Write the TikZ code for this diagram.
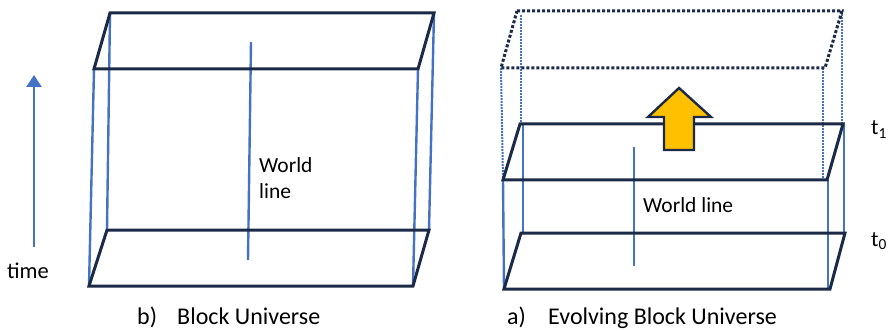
\documentclass[tikz,border=0pt]{standalone}
\usepackage{fontspec}
\setmainfont{Carlito}
\usetikzlibrary{arrows.meta}
\definecolor{navy}{HTML}{1B2A47}
\definecolor{wblue}{HTML}{4472C4}
\definecolor{ygold}{HTML}{FFC000}
\tikzset{
  edge/.style={draw=navy,line width=3pt,line join=miter},
  dotedge/.style={draw=navy,line width=3pt,dotted},
  vline/.style={draw=wblue,line width=2.4pt},
  dotvline/.style={draw=wblue,line width=2pt,densely dotted},
  lbl/.style={inner sep=0pt,anchor=base west,text=black},
}
\begin{document}
\begin{tikzpicture}[x=1pt,y=-1pt]
\useasboundingbox (0,0) rectangle (888,331);
% ---------- left: block universe ----------
\coordinate (LTbl) at (110,13);  \coordinate (LTbr) at (434,13);
\coordinate (LTfl) at (94,69);   \coordinate (LTfr) at (418,69);
\coordinate (LBbl) at (107,230); \coordinate (LBbr) at (429,230);
\coordinate (LBfl) at (89,286);  \coordinate (LBfr) at (413,286);
\draw[vline] (LTbl) -- (LBbl);
\draw[vline] (LTbr) -- (LBbr);
\draw[vline] (LTfl) -- (LBfl);
\draw[vline] (LTfr) -- (LBfr);
\coordinate (LWt) at (251,42); \coordinate (LWb) at (248,260);
\draw[vline] (LWt) -- (LWb);
\draw[edge] (LTbl) -- (LTbr) -- (LTfr) -- (LTfl) -- cycle;
\draw[edge] (LBbl) -- (LBbr) -- (LBfr) -- (LBfl) -- cycle;
\node[lbl,font=\fontsize{21.5}{24}\selectfont] (lw1) at (259,173) {World};
\node[lbl,font=\fontsize{21.5}{24}\selectfont] (lw2) at (259,198) {line};
% time arrow
\coordinate (Ta) at (34,247); \coordinate (Tb) at (34,75);
\draw[draw=wblue,line width=2.8pt,-{Triangle[width=15pt,length=12pt]}] (Ta) -- (Tb);
\node[lbl,font=\fontsize{22.5}{24}\selectfont] (time) at (7,278) {time};
\node[lbl,font=\fontsize{24}{26}\selectfont] (cb) at (137,324) {b)};
\node[lbl,font=\fontsize{24}{26}\selectfont] (cbt) at (177,324) {Block Universe};
% ---------- right: evolving block universe ----------
\coordinate (DTbl) at (517,11);  \coordinate (DTbr) at (842,11);
\coordinate (DTfl) at (501,68);  \coordinate (DTfr) at (825,68);
\coordinate (RTbl) at (520,124); \coordinate (RTbr) at (843,124);
\coordinate (RTfl) at (503,180); \coordinate (RTfr) at (827,180);
\coordinate (RBbl) at (521,233); \coordinate (RBbr) at (845,233);
\coordinate (RBfl) at (504,289); \coordinate (RBfr) at (830,289);
% dotted verticals
\draw[dotvline] (521,15) -- (521,124);
\draw[dotvline] (842,11) -- (842,124);
\draw[dotvline] (DTfl) -- (RTfl);
\draw[dotvline] (823,68) -- (823,180);
% solid verticals
\draw[vline] (523,124) -- (523,233);
\draw[vline] (844,124) -- (844,233);
\draw[vline] (RTfl) -- (RBfl);
\draw[vline] (828,180) -- (828,289);
\coordinate (RWt) at (634,147); \coordinate (RWb) at (634,266);
\draw[vline] (RWt) -- (RWb);
\draw[dotedge] (DTbl) -- (DTbr) -- (DTfr) -- (DTfl) -- cycle;
\draw[edge] (RTbl) -- (RTbr) -- (RTfr) -- (RTfl) -- cycle;
\draw[edge] (RBbl) -- (RBbr) -- (RBfr) -- (RBfl) -- cycle;
% yellow arrow
\draw[fill=ygold,draw=navy,line width=2.4pt,line join=miter]
  (664,150) -- (694,150) -- (694,117) -- (711,117) -- (679,88) -- (648,117) -- (664,117) -- cycle;
\node[lbl,font=\fontsize{21.5}{24}\selectfont] (rw) at (643,212) {World line};
\node[lbl,font=\fontsize{22}{24}\selectfont] (t1) at (871,135) {t\textsubscript{1}};
\node[lbl,font=\fontsize{22}{24}\selectfont] (t0) at (871,246) {t\textsubscript{0}};
\node[lbl,font=\fontsize{24}{26}\selectfont] (ca) at (507,324) {a)};
\node[lbl,font=\fontsize{24}{26}\selectfont] (cat) at (548,324) {Evolving Block Universe};
\end{tikzpicture}
\end{document}
